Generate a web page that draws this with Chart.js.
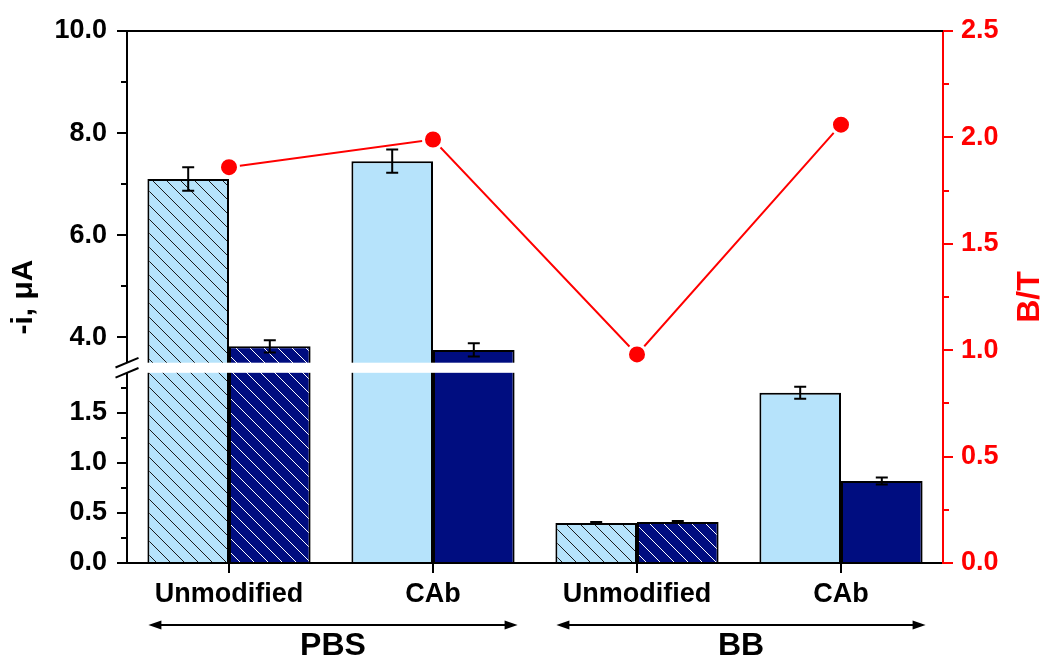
<!DOCTYPE html>
<html>
<head>
<meta charset="utf-8">
<script src="https://cdn.jsdelivr.net/npm/chart.js@4.4.1/dist/chart.umd.min.js"></script>
<style>
  html, body { margin: 0; padding: 0; background: #ffffff; }
  canvas { display: block; }
</style>
</head>
<body>
<canvas id="chart" width="1043" height="660"></canvas>
<script>
// ---- data ----
const categories = ['Unmodified', 'CAb', 'Unmodified', 'CAb'];
const hatched = [true, false, true, false];
const currentB = [7.10, 7.45, 0.40, 1.70];
const errorB = [0.23, 0.23, 0.01, 0.06];
const currentT = [3.82, 3.75, 0.41, 0.82];
const errorT = [0.12, 0.13, 0.01, 0.035];
const ratioBT = [1.86, 1.99, 0.98, 2.06];
const groupLabels = ['PBS', 'BB'];
const groupMembers = [[0, 1], [2, 3]];
const currentMajorTicks = [0, 0.5, 1.0, 1.5, 4.0, 6.0, 8.0, 10.0];
const currentMinorTicks = [0.25, 0.75, 1.25, 1.75, 5.0, 7.0, 9.0];
const ratioMinorTicks = [0.25, 0.75, 1.25, 1.75, 2.25];

// ---- styling ----
const FONT = '"Liberation Sans", Arial, Helvetica, sans-serif';
const RED = '#ff0000';
const LIGHT = '#b6e3fb';
const NAVY = '#000d80';
Chart.defaults.font.family = FONT;

// broken current axis: lower segment 0..low, gap, upper segment high..max
const BREAK = { low: 1.9, high: 3.5, lowFrac: 0.3575, gapFrac: 0.019 };

function toBrokenDecimal(v, min, max) {
  const { low, high, lowFrac, gapFrac } = BREAK;
  if (v <= low) return lowFrac * (v - min) / (low - min);
  if (v >= high) return lowFrac + gapFrac + (1 - lowFrac - gapFrac) * (v - high) / (max - high);
  return lowFrac + gapFrac * (v - low) / (high - low);
}
function fromBrokenDecimal(d, min, max) {
  const { low, high, lowFrac, gapFrac } = BREAK;
  if (d <= lowFrac) return min + d / lowFrac * (low - min);
  if (d >= lowFrac + gapFrac) return high + (d - lowFrac - gapFrac) / (1 - lowFrac - gapFrac) * (max - high);
  return low + (d - lowFrac) / gapFrac * (high - low);
}

class BrokenLinearScale extends Chart.LinearScale {
  static id = 'brokenLinear';
  static defaults = {};
  buildTicks() {
    return currentMajorTicks.map(value => ({ value }));
  }
  getPixelForValue(value) {
    if (value === null || value === undefined || isNaN(value)) return NaN;
    return this.getPixelForDecimal(toBrokenDecimal(+value, this.min, this.max));
  }
  getValueForPixel(pixel) {
    return fromBrokenDecimal(this.getDecimalForPixel(pixel), this.min, this.max);
  }
}
Chart.register(BrokenLinearScale);

function makeHatch(bg, stroke) {
  const s = 14;
  const c = document.createElement('canvas');
  c.width = s; c.height = s;
  const g = c.getContext('2d');
  g.fillStyle = bg;
  g.fillRect(0, 0, s, s);
  g.strokeStyle = stroke;
  g.lineWidth = 1;
  g.beginPath();
  g.moveTo(-2, -2); g.lineTo(s + 2, s + 2);
  g.moveTo(-2, s - 2); g.lineTo(2, s + 2);
  g.moveTo(s - 2, -2); g.lineTo(s + 2, 2);
  g.stroke();
  return g.createPattern(c, 'repeat');
}
const hatchLight = makeHatch(LIGHT, '#1a1a1a');
const hatchNavy = makeHatch(NAVY, '#ffffff');

// ---- drawing helpers ----
function drawGapAndErrors(chart) {
  const { ctx, chartArea, scales } = chart;
  const y = scales.y;
  const gapTop = y.getPixelForValue(BREAK.high);
  const gapBottom = y.getPixelForValue(BREAK.low);
  ctx.save();
  ctx.fillStyle = '#ffffff';
  ctx.fillRect(chartArea.left - 3, gapTop, chartArea.right - chartArea.left + 2, gapBottom - gapTop);

  // error bars
  ctx.strokeStyle = '#000';
  ctx.lineWidth = 2;
  [[currentB, errorB], [currentT, errorT]].forEach(([vals, errs], d) => {
    const meta = chart.getDatasetMeta(d);
    meta.data.forEach((bar, i) => {
      const x = bar.x;
      const yHi = y.getPixelForValue(vals[i] + errs[i]);
      const yLo = y.getPixelForValue(vals[i] - errs[i]);
      ctx.beginPath();
      ctx.moveTo(x, yHi); ctx.lineTo(x, yLo);
      ctx.moveTo(x - 6, yHi); ctx.lineTo(x + 6, yHi);
      ctx.moveTo(x - 6, yLo); ctx.lineTo(x + 6, yLo);
      ctx.stroke();
    });
  });

  // break marks on the left axis
  const ax = chartArea.left;
  ctx.lineWidth = 2;
  [gapTop, gapBottom].forEach(py => {
    ctx.beginPath();
    ctx.moveTo(ax - 11.5, py + 4.8);
    ctx.lineTo(ax + 11.5, py - 4.8);
    ctx.stroke();
  });
  ctx.restore();
}

function drawArrow(ctx, x1, x2, y) {
  const head = 13, half = 4.5;
  ctx.beginPath();
  ctx.moveTo(x1 + head - 2, y); ctx.lineTo(x2 - head + 2, y);
  ctx.stroke();
  ctx.beginPath();
  ctx.moveTo(x1, y); ctx.lineTo(x1 + head, y - half); ctx.lineTo(x1 + head, y + half); ctx.closePath();
  ctx.moveTo(x2, y); ctx.lineTo(x2 - head, y - half); ctx.lineTo(x2 - head, y + half); ctx.closePath();
  ctx.fill();
}

const axisDecor = {
  id: 'axisDecor',
  beforeDatasetsDraw(chart) {
    const { ctx, chartArea } = chart;
    ctx.save();
    ctx.strokeStyle = '#000';
    ctx.lineWidth = 2;
    ctx.beginPath();
    ctx.moveTo(chartArea.left, chartArea.top);
    ctx.lineTo(chartArea.right, chartArea.top);
    ctx.stroke();
    ctx.restore();
  },
  beforeDatasetDraw(chart, args) {
    if (args.meta.type === 'line') drawGapAndErrors(chart);
  },
  afterDraw(chart) {
    const { ctx, chartArea, scales } = chart;
    ctx.save();
    // minor ticks
    ctx.lineWidth = 2;
    ctx.strokeStyle = '#000';
    ctx.beginPath();
    currentMinorTicks.forEach(v => {
      const py = Math.round(scales.y.getPixelForValue(v));
      ctx.moveTo(chartArea.left - 6, py); ctx.lineTo(chartArea.left, py);
    });
    ctx.stroke();
    ctx.strokeStyle = RED;
    ctx.beginPath();
    ratioMinorTicks.forEach(v => {
      const py = Math.round(scales.y2.getPixelForValue(v));
      ctx.moveTo(chartArea.right, py); ctx.lineTo(chartArea.right + 6, py);
    });
    ctx.stroke();

    // right axis title, reading upward
    ctx.fillStyle = RED;
    ctx.font = 'bold 32px ' + FONT;
    ctx.textAlign = 'center';
    ctx.textBaseline = 'alphabetic';
    ctx.translate(scales.y2.right - 4, (chartArea.top + chartArea.bottom) / 2);
    ctx.rotate(-Math.PI / 2);
    ctx.fillText('B/T', 0, 0);
    ctx.setTransform(1, 0, 0, 1, 0, 0);

    // buffer groups with arrows
    const metaB = chart.getDatasetMeta(0);
    const metaT = chart.getDatasetMeta(1);
    ctx.strokeStyle = '#000';
    ctx.fillStyle = '#000';
    ctx.lineWidth = 2;
    ctx.font = 'bold 32px ' + FONT;
    ctx.textAlign = 'center';
    ctx.textBaseline = 'middle';
    const arrowY = chartArea.bottom + 62;
    const labelY = chartArea.bottom + 83;
    groupLabels.forEach((label, g) => {
      const [a, b] = groupMembers[g];
      const first = metaB.data[a];
      const last = metaT.data[b];
      const x1 = first.x - first.width / 2 + 1;
      const x2 = last.x + last.width / 2 + 3;
      drawArrow(ctx, x1, x2, arrowY);
      ctx.fillText(label, (x1 + x2) / 2, labelY);
    });
    ctx.restore();
  }
};

const tickFont = { family: FONT, size: 27, weight: 'bold' };

new Chart(document.getElementById('chart'), {
  type: 'bar',
  data: {
    labels: categories,
    datasets: [
      {
        label: 'B',
        data: currentB,
        yAxisID: 'y',
        backgroundColor: categories.map((_, i) => hatched[i] ? hatchLight : LIGHT),
        borderColor: '#000',
        borderWidth: 2,
        categoryPercentage: 0.8,
        barPercentage: 1.0,
        order: 2
      },
      {
        label: 'T',
        data: currentT,
        yAxisID: 'y',
        backgroundColor: categories.map((_, i) => hatched[i] ? hatchNavy : NAVY),
        borderColor: '#000',
        borderWidth: 2,
        categoryPercentage: 0.8,
        barPercentage: 1.0,
        order: 2
      },
      {
        type: 'line',
        label: 'B/T',
        data: ratioBT,
        yAxisID: 'y2',
        borderColor: RED,
        borderWidth: 2,
        tension: 0,
        pointRadius: 9.5,
        pointBackgroundColor: RED,
        pointBorderColor: '#ffffff',
        pointBorderWidth: 3,
        order: 1
      }
    ]
  },
  options: {
    responsive: false,
    animation: false,
    devicePixelRatio: 1,
    events: [],
    layout: { padding: { top: 31, left: 0, right: 0, bottom: 0 } },
    plugins: { legend: { display: false }, tooltip: { enabled: false } },
    scales: {
      x: {
        type: 'category',
        offset: true,
        grid: { offset: false, drawOnChartArea: false, tickLength: 10, lineWidth: 2, color: '#000' },
        border: { color: '#000', width: 2 },
        ticks: { color: '#000', font: tickFont, padding: 5, maxRotation: 0, autoSkip: false },
        afterFit(scale) { scale.height = 97; }
      },
      y: {
        type: 'brokenLinear',
        position: 'left',
        min: 0,
        max: 10,
        grid: { drawOnChartArea: false, tickLength: 10, lineWidth: 2, color: '#000' },
        border: { color: '#000', width: 2 },
        ticks: { color: '#000', font: tickFont, padding: 10, autoSkip: false, callback: v => v.toFixed(1) },
        title: { display: true, text: '-i, μA', color: '#000', font: { family: FONT, size: 30, weight: 'bold' }, padding: { top: 6, bottom: 0 } },
        afterFit(scale) { scale.width = 127; }
      },
      y2: {
        type: 'linear',
        position: 'right',
        min: 0,
        max: 2.5,
        grid: { drawOnChartArea: false, tickLength: 10, lineWidth: 2, color: RED },
        border: { color: RED, width: 2 },
        ticks: { color: RED, font: tickFont, padding: 8, stepSize: 0.5, autoSkip: false, callback: v => v.toFixed(1) },
        afterFit(scale) { scale.width = 100; }
      }
    }
  },
  plugins: [axisDecor]
});
</script>
</body>
</html>
